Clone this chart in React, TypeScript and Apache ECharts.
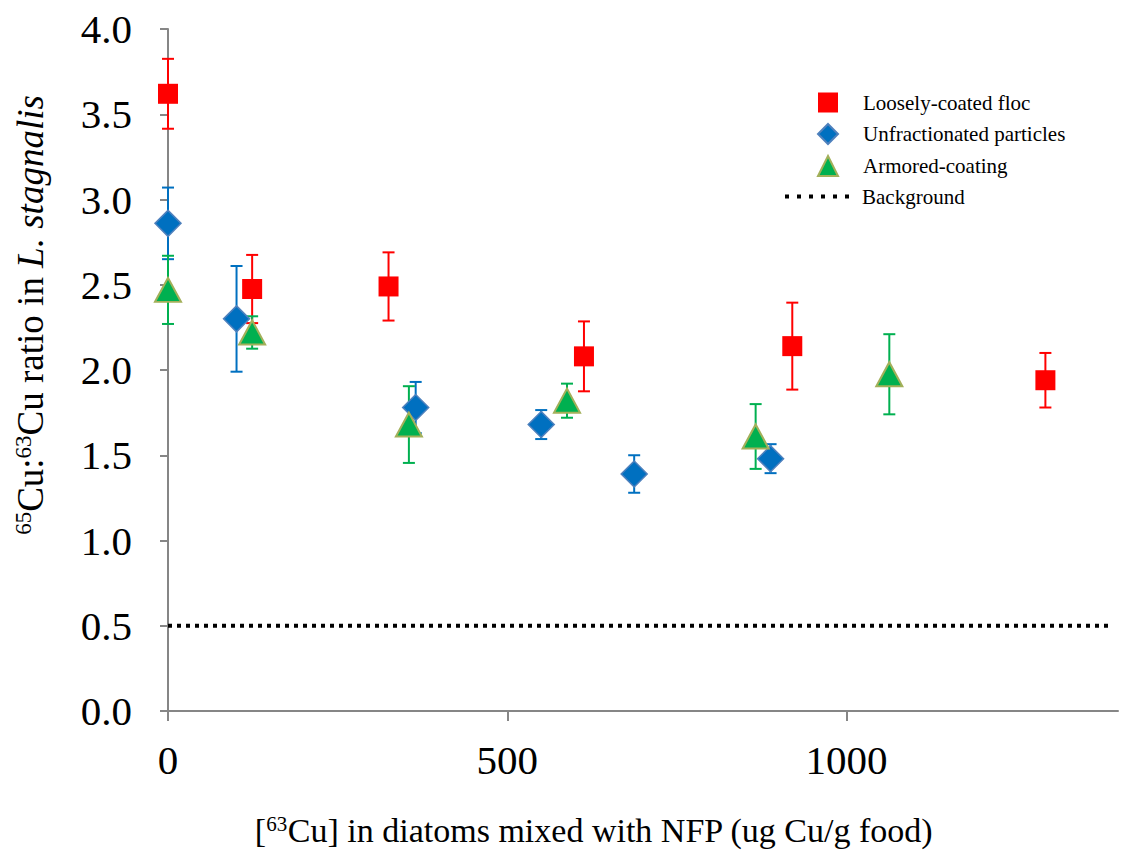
import React, { useEffect, useRef } from "react";
import * as echarts from "echarts";

const FONT = "'Liberation Serif', 'Times New Roman', serif";

// Loosely-coated floc
const flocX = [0, 124, 325, 613, 920, 1293];
const flocY = [3.62, 2.475, 2.49, 2.08, 2.14, 1.94];
const flocErr = [0.205, 0.2, 0.2, 0.205, 0.255, 0.16];

// Unfractionated particles
const unfrX = [0, 101, 365, 550, 687, 888];
const unfrY = [2.86, 2.3, 1.78, 1.68, 1.39, 1.48];
const unfrErr = [0.21, 0.31, 0.15, 0.085, 0.11, 0.085];

// Armored-coating
const armX = [0, 124, 355, 588, 866, 1063];
const armY = [2.47, 2.22, 1.68, 1.82, 1.61, 1.975];
const armErr = [0.2, 0.095, 0.225, 0.1, 0.19, 0.235];

// Background
const bgX = [0, 1390];
const bgY = [0.5, 0.5];

const xTicks = [0, 500, 1000];

const seriesNames = ["Loosely-coated floc", "Unfractionated particles", "Armored-coating", "Background"];

const pts = (xs: number[], ys: number[]) => xs.map((x, i) => [x, ys[i]]);
const errs = (xs: number[], ys: number[], es: number[]) =>
  xs.map((x, i) => [x, ys[i] - es[i], ys[i] + es[i]]);

function errorSeries(name: string, data: number[][], color: string) {
  return {
    type: "custom",
    name: name + " err",
    data,
    z: 1,
    silent: true,
    renderItem: (params: any, api: any) => {
      const x = api.value(0);
      const lo = api.coord([x, api.value(1)]);
      const hi = api.coord([x, api.value(2)]);
      const hw = 6;
      const st = { stroke: color, lineWidth: 2 };
      return {
        type: "group",
        children: [
          { type: "line", shape: { x1: lo[0], y1: lo[1], x2: hi[0], y2: hi[1] }, style: st },
          { type: "line", shape: { x1: lo[0] - hw, y1: lo[1], x2: lo[0] + hw, y2: lo[1] }, style: st },
          { type: "line", shape: { x1: hi[0] - hw, y1: hi[1], x2: hi[0] + hw, y2: hi[1] }, style: st },
        ],
      };
    },
  };
}

export default function App() {
  const ref = useRef<HTMLDivElement>(null);
  useEffect(() => {
    if (!ref.current) return;
    const chart = echarts.init(ref.current, null, { renderer: "svg" });
    const axisLineStyle = { color: "#868686", width: 2 };
    const legendText = { fontFamily: FONT, fontSize: 21, color: "#000", padding: [0, 0, 0, 20] };
    chart.setOption({
      animation: false,
      backgroundColor: "#ffffff",
      grid: { left: 168, right: 16, top: 29, bottom: 141 },
      xAxis: {
        type: "value",
        min: 0,
        max: 1400,
        interval: 500,
        splitLine: { show: false },
        axisLine: { show: true, onZero: false, lineStyle: axisLineStyle },
        axisTick: { show: true, length: 10, lineStyle: axisLineStyle, customValues: xTicks },
        axisLabel: {
          customValues: xTicks,
          margin: 28,
          fontFamily: FONT,
          fontSize: 41,
          color: "#000",
          formatter: (v: number) => String(v),
        },
      },
      yAxis: {
        type: "value",
        min: 0,
        max: 4,
        interval: 0.5,
        splitLine: { show: false },
        axisLine: { show: true, lineStyle: axisLineStyle },
        axisTick: { show: true, length: 8, lineStyle: axisLineStyle },
        axisLabel: {
          margin: 36,
          fontFamily: FONT,
          fontSize: 41,
          color: "#000",
          formatter: (v: number) => v.toFixed(1),
        },
      },
      legend: [
        {
          data: seriesNames.slice(0, 3),
          orient: "vertical",
          left: 812,
          top: 87,
          itemWidth: 20,
          itemHeight: 20,
          itemGap: 10,
          textStyle: legendText,
        },
        {
          data: [seriesNames[3]],
          orient: "vertical",
          left: 778,
          top: 181,
          itemWidth: 72,
          itemHeight: 20,
          itemStyle: { opacity: 0 },
          lineStyle: { color: "#000", width: 4, type: [4, 8] },
          textStyle: { fontFamily: FONT, fontSize: 21, color: "#000" },
        },
      ],
      graphic: [
        {
          type: "text",
          x: 30,
          y: 315,
          rotation: Math.PI / 2,
          style: {
            text: "{sup|65}Cu:{sup|63}Cu ratio in {it|L. stagnalis}",
            fontFamily: FONT,
            fontSize: 37,
            fill: "#000",
            align: "center",
            verticalAlign: "middle",
            rich: {
              sup: { fontFamily: FONT, fontSize: 23, verticalAlign: "top", fill: "#000" },
              it: { fontFamily: FONT, fontSize: 37, fontStyle: "italic", fill: "#000" },
            },
          },
        },
        {
          type: "text",
          x: 594,
          y: 830,
          style: {
            text: "[{sup|63}Cu] in diatoms mixed with NFP (ug Cu/g food)",
            fontFamily: FONT,
            fontSize: 34,
            fill: "#000",
            align: "center",
            verticalAlign: "middle",
            rich: {
              sup: { fontFamily: FONT, fontSize: 21, verticalAlign: "top", fill: "#000" },
            },
          },
        },
      ],
      series: [
        {
          type: "line",
          name: seriesNames[3],
          data: pts(bgX, bgY),
          symbol: "none",
          z: 1,
          itemStyle: { color: "#000" },
          lineStyle: { color: "#000", width: 4, type: [4, 5] },
        },
        errorSeries(seriesNames[0], errs(flocX, flocY, flocErr), "#FF0000"),
        errorSeries(seriesNames[1], errs(unfrX, unfrY, unfrErr), "#0070C0"),
        errorSeries(seriesNames[2], errs(armX, armY, armErr), "#00B050"),
        {
          type: "scatter",
          name: seriesNames[0],
          data: pts(flocX, flocY),
          symbol: "rect",
          symbolSize: 20,
          z: 3,
          itemStyle: { color: "#FF0000", opacity: 1 },
        },
        {
          type: "scatter",
          name: seriesNames[1],
          data: pts(unfrX, unfrY),
          symbol: "diamond",
          symbolSize: 26,
          z: 3,
          itemStyle: { color: "#0070C0", borderColor: "#4F81BD", borderWidth: 1.5, opacity: 1 },
        },
        {
          type: "scatter",
          name: seriesNames[2],
          data: pts(armX, armY),
          symbol: "triangle",
          symbolSize: [26, 24],
          z: 3,
          itemStyle: { color: "#00B050", borderColor: "#A3B05A", borderWidth: 2, opacity: 1 },
        },
      ],
    });
    return () => chart.dispose();
  }, []);
  return <div ref={ref} style={{ width: 1134, height: 852, position: "absolute", left: 0, top: 0 }} />;
}
